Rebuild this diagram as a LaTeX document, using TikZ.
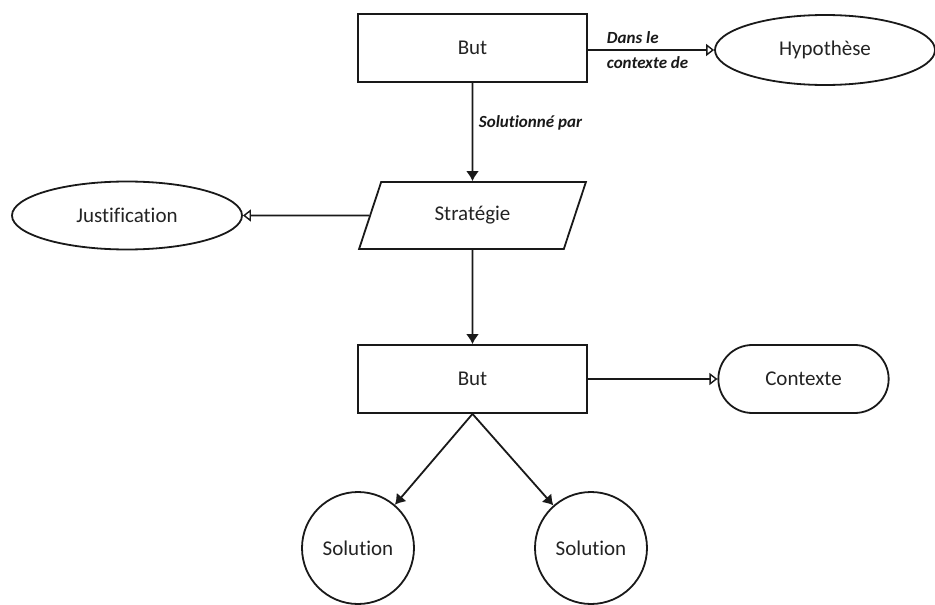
\documentclass[tikz,border=0pt]{standalone}
\usepackage{fontspec}
\setmainfont{Carlito}[Ligatures=NoCommon]
\usetikzlibrary{arrows.meta,shapes.geometric,shapes.misc}
\definecolor{ink}{RGB}{25,25,25}
\definecolor{txt}{RGB}{35,35,35}
\begin{document}
\begin{tikzpicture}[x=1pt,y=1pt,
  every node/.style={draw=ink,line width=1.8pt,text=txt,font=\fontsize{21}{25}\selectfont},
  goalbox/.style={rectangle,minimum width=229pt,minimum height=68pt},
  oval/.style={ellipse,inner sep=0pt},
  stratbox/.style={trapezium,trapezium left angle=68,trapezium right angle=112,
    trapezium stretches=true,minimum width=227pt,minimum height=67pt},
  ctxbox/.style={rounded rectangle,minimum width=177pt,minimum height=68pt},
  solbox/.style={circle,minimum size=112pt,inner sep=0pt},
  link/.style={draw=ink,line width=1.8pt},
  solid arrow/.style={link,-{Latex[length=10pt,width=13pt]}},
  open arrow/.style={link,-{Triangle[open,length=8pt,width=12pt,line width=1.4pt]}},
  edgelabel/.style={draw=none,text=ink,font=\fontsize{17}{25}\selectfont\bfseries\itshape,align=left,inner sep=0pt}
]
\useasboundingbox (0,0) rectangle (935,-605);

% goal structure nodes
\node[goalbox] (but1) at (472.5,-48) {But};
\node[oval,minimum width=220pt,minimum height=70pt] (hyp) at (825,-50) {Hypothèse};
\node[stratbox] (strat) at (472.5,-215.5) {Stratégie};
\node[oval,minimum width=230pt,minimum height=68pt] (just) at (127,-215.5) {Justification};
\node[goalbox] (but2) at (472.5,-379) {But};
\node[ctxbox] (ctx) at (803.5,-379) {Contexte};
\node[solbox] (sol1) at (358,-548) {Solution};
\node[solbox] (sol2) at (591,-548) {Solution};

% connectors
\draw[open arrow] (but1.east |- hyp) -- (hyp);
\draw[solid arrow] (but1) -- (strat);
\draw[open arrow] (strat) -- (just);
\draw[solid arrow] (strat) -- (but2);
\draw[open arrow] (but2) -- (ctx);
\draw[solid arrow] (but2.south) -- (sol1);
\draw[solid arrow] (but2.south) -- (sol2);

% relation labels
\node[edgelabel,anchor=west] (lab1) at (606,-50) {Dans le\\contexte de};
\node[edgelabel,anchor=west] (lab2) at (478,-123) {Solutionné par};
\end{tikzpicture}
\end{document}
